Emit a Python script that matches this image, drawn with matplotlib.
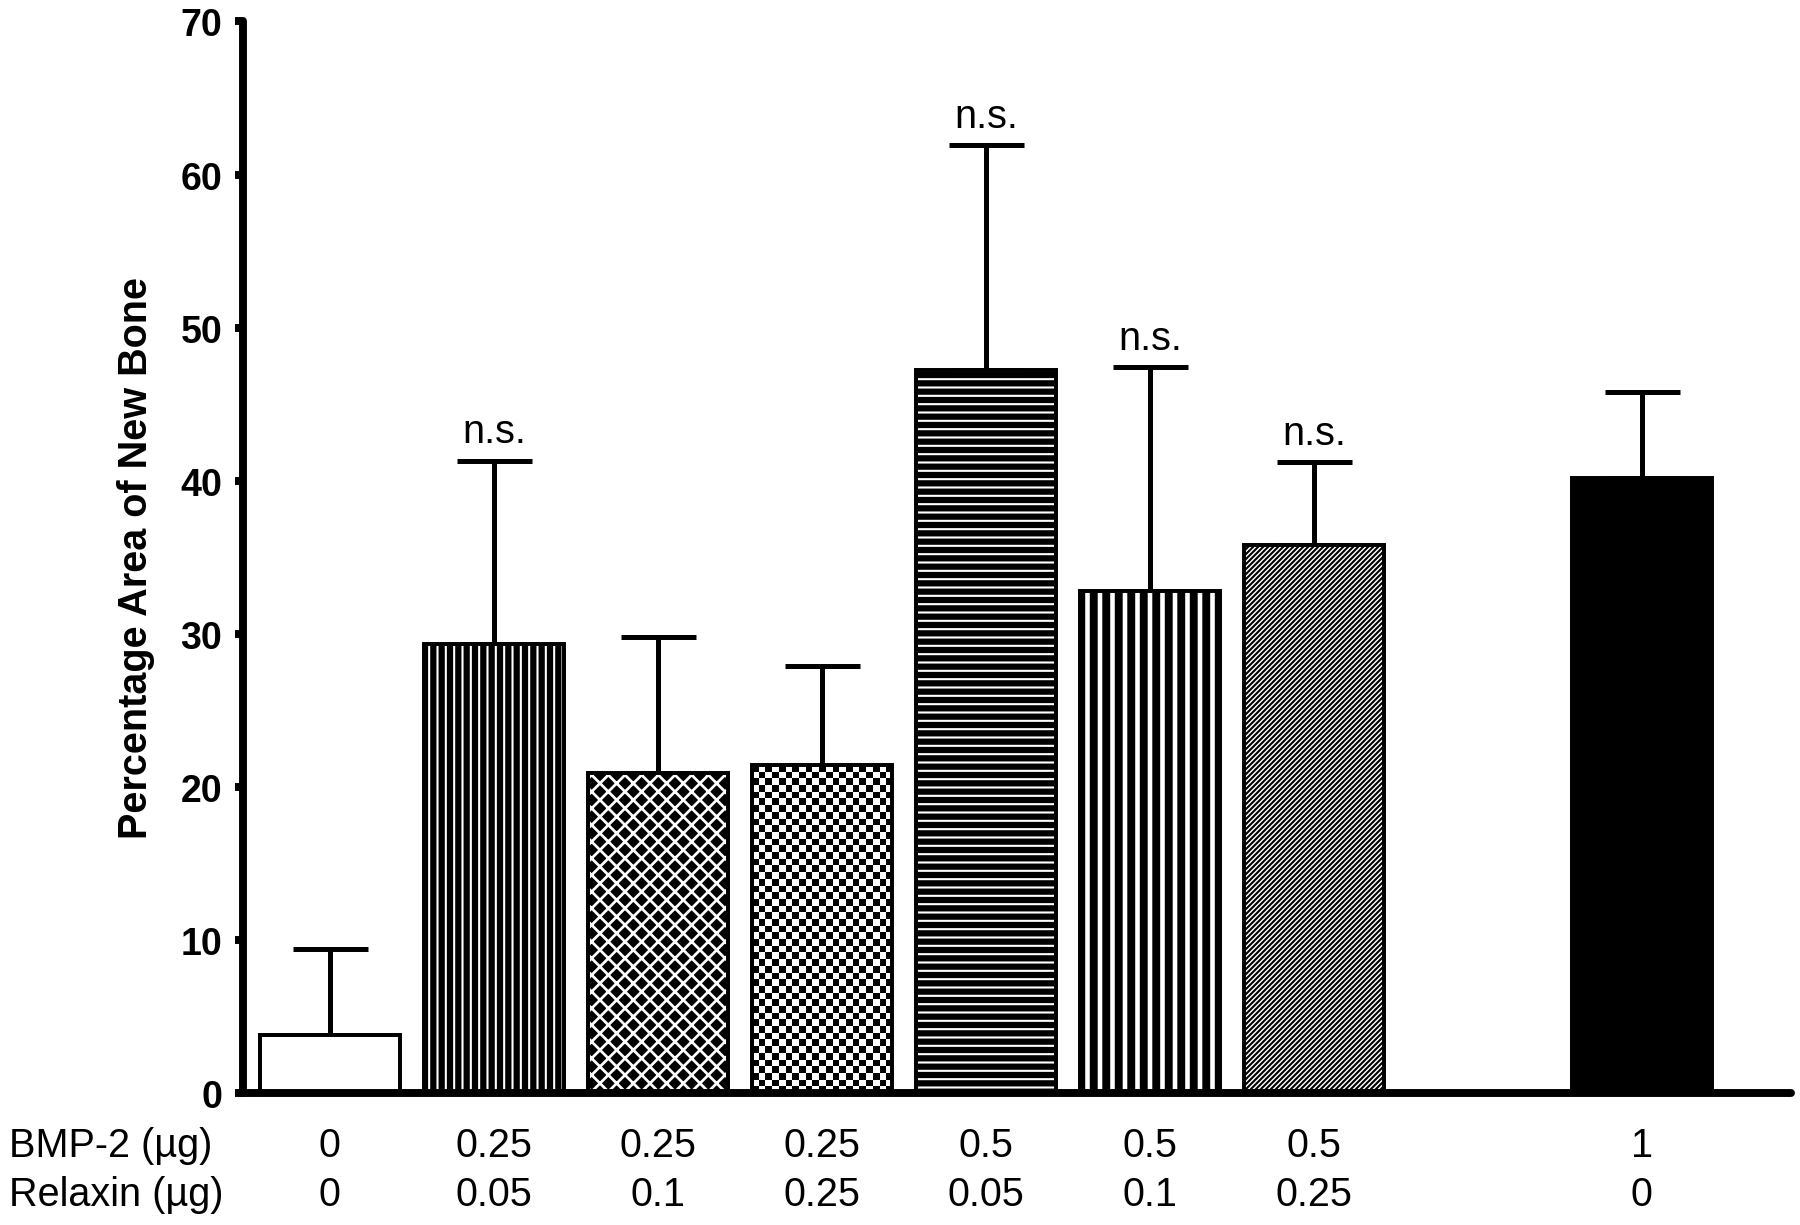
import numpy as np
import matplotlib
matplotlib.use('Agg')
import matplotlib.pyplot as plt
from matplotlib.patches import Rectangle
import matplotlib.transforms as mtransforms

plt.rcParams['font.family'] = ['Liberation Sans', 'DejaVu Sans']

# values
bmp2 = ['0', '0.25', '0.25', '0.25', '0.5', '0.5', '0.5', '1']
relaxin = ['0', '0.05', '0.1', '0.25', '0.05', '0.1', '0.25', '0']
means = np.array([3.8, 29.3, 20.9, 21.4, 47.2, 32.8, 35.8, 40.2])
err_top = np.array([9.4, 41.3, 29.8, 27.9, 61.9, 47.4, 41.2, 45.8])
positions = np.array([0, 1, 2, 3, 4, 5, 6, 8])
show_ns = [False, True, False, False, True, True, True, False]

sem = err_top - means
width = 0.855

# (face, hatch colour, hatch, hatch linewidth)
styles = [
    ('white', 'white', None, 1.0),
    ('black', 'white', '|||', 1.0),
    ('black', 'white', 'xxx', 1.3),
    ('white', 'black', 'checker', 1.0),
    ('black', 'white', '---', 1.0),
    ('white', 'black', '||', 3.8),
    ('white', 'black', '//////////', 1.0),
    ('black', 'black', None, 1.0),
]

fig = plt.figure(figsize=(12, 8.173), dpi=150)
ax = fig.add_axes([0.135, 0.1077, 0.86, 0.874])

for x, h, (face, hc, hatch, hlw) in zip(positions, means, styles):
    if hatch == 'checker':
        # no checkerboard hatch in matplotlib, so paint one and clip it to the bar
        n_cols = 21
        n_rows = int(round(h / 0.44))
        checker = (np.add.outer(np.arange(n_rows), np.arange(n_cols)) % 2).astype(float)
        im = ax.imshow(checker, cmap='gray', vmin=0, vmax=1, interpolation='nearest',
                       extent=(x - width / 2, x + width / 2, 0, h), aspect='auto',
                       origin='lower', zorder=2)
        im.set_clip_path(Rectangle((x - width / 2, 0), width, h, transform=ax.transData))
        continue
    with plt.rc_context({'hatch.linewidth': hlw}):
        b = ax.bar(x, h, width, color=face, edgecolor=hc if hatch else face,
                   hatch=hatch, linewidth=0, zorder=2)
    for p in b:
        if hasattr(p, 'set_hatch_linewidth'):
            p.set_hatch_linewidth(hlw)

# outlines on top of the fills
ax.bar(positions, means, width, fill=False, edgecolor='black', linewidth=1.9, zorder=3)

ax.errorbar(positions, means, yerr=[np.zeros_like(sem), sem], fmt='none',
            ecolor='black', elinewidth=2.4, capsize=18, capthick=2.4, zorder=1)

for x, top, ns in zip(positions, err_top, show_ns):
    if ns:
        ax.annotate('n.s.', (x, top), xytext=(0, 5), textcoords='offset points',
                    ha='center', va='bottom', fontsize=19)

ax.set_xlim(-0.53, 8.91)
ax.set_ylim(0, 70)
ax.set_yticks(np.arange(0, 71, 10))
ax.set_xticks([])
for s in ['top', 'right']:
    ax.spines[s].set_visible(False)
for s in ['left', 'bottom']:
    ax.spines[s].set_linewidth(3.8)
    ax.spines[s].set_capstyle('round')
ax.tick_params(axis='y', direction='out', length=4, width=3.8, labelsize=18, pad=6)
for lab in ax.get_yticklabels():
    lab.set_fontweight('bold')
ax.set_ylabel('Percentage Area of New Bone', fontsize=19, fontweight='bold', labelpad=12)

# dose table below the axis
trans = mtransforms.blended_transform_factory(ax.transData, fig.transFigure)
rows = [('BMP-2 (µg)', bmp2, 0.065), ('Relaxin (µg)', relaxin, 0.025)]
for label, row, y in rows:
    fig.text(0.005, y, label, fontsize=19, ha='left', va='center')
    for x, v in zip(positions, row):
        ax.text(x, y, v, fontsize=19, ha='center', va='center', transform=trans)

fig.savefig('out.png', dpi=150)
